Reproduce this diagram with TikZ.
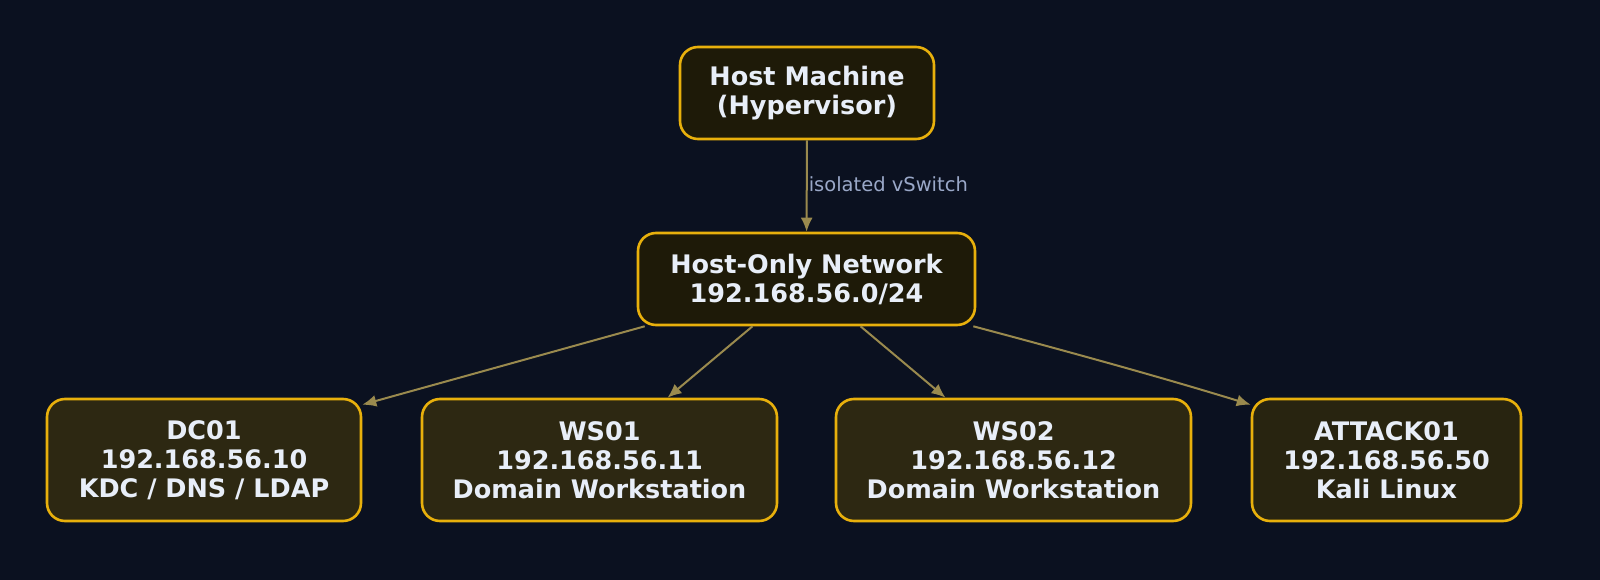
\documentclass[tikz,border=0pt]{standalone}
\usepackage{fontspec}
\setmainfont{DejaVu Sans}
\usetikzlibrary{calc,arrows.meta}
\definecolor{bgnavy}{HTML}{0B1120}
\definecolor{gold}{HTML}{E8B00C}
\definecolor{darkfill}{HTML}{1E1A08}
\definecolor{boxfill}{HTML}{2D2812}
\definecolor{linkc}{HTML}{9A8A4E}
\definecolor{txt}{HTML}{E8EEF8}
\definecolor{lbl}{HTML}{9AA8C8}
\tikzset{
  box/.style={draw=gold, line width=2.6pt, rounded corners=18pt, align=center,
    text=txt, font=\fontsize{25.5}{29}\selectfont\bfseries, inner sep=0pt},
  link/.style={draw=linkc, line width=2pt, -{Latex[length=14pt,width=12pt]}},
}
\begin{document}
\begin{tikzpicture}[x=1pt, y=-1pt]
  \fill[bgnavy] (0,0) rectangle (1600,580);
  \useasboundingbox (0,0) rectangle (1600,580);
  \node[box, fill=darkfill, minimum width=254pt, minimum height=92pt] (host) at (807,93) {Host Machine\\(Hypervisor)};
  \node[box, fill=darkfill, minimum width=337pt, minimum height=92pt] (net) at (806.5,279) {Host-Only Network\\192.168.56.0/24};
  \node[box, fill=boxfill, minimum width=314pt, minimum height=122pt] (dc) at (204,460) {DC01\\192.168.56.10\\KDC / DNS / LDAP};
  \node[box, fill=boxfill, minimum width=355pt, minimum height=122pt] (ws1) at (599.5,460) {WS01\\192.168.56.11\\Domain Workstation};
  \node[box, fill=boxfill, minimum width=355pt, minimum height=122pt] (ws2) at (1013.5,460) {WS02\\192.168.56.12\\Domain Workstation};
  \node[box, fill=boxfill!90!black, minimum width=269pt, minimum height=122pt] (atk) at (1386.5,460) {ATTACK01\\192.168.56.50\\Kali Linux};
  % links
  \draw[link] (host) -- node[right, pos=0.48, inner sep=1pt, text=lbl, font=\fontsize{19.5}{19.5}\selectfont] {isolated vSwitch} (net);
  \draw[link] ($(net.south west)+(8,0)$) -- ($(dc.north east)+(0,7)$);
  \draw[link] ($(net.south)+(-54,0)$) -- ($(ws1.north)+(68,0)$);
  \draw[link] ($(net.south)+(54,0)$) -- ($(ws2.north)+(-68,0)$);
  \draw[link] ($(net.south east)+(-3,0)$) .. controls (1100,360) and (1180,383) .. ($(atk.north west)+(0,7)$);
\end{tikzpicture}
\end{document}
